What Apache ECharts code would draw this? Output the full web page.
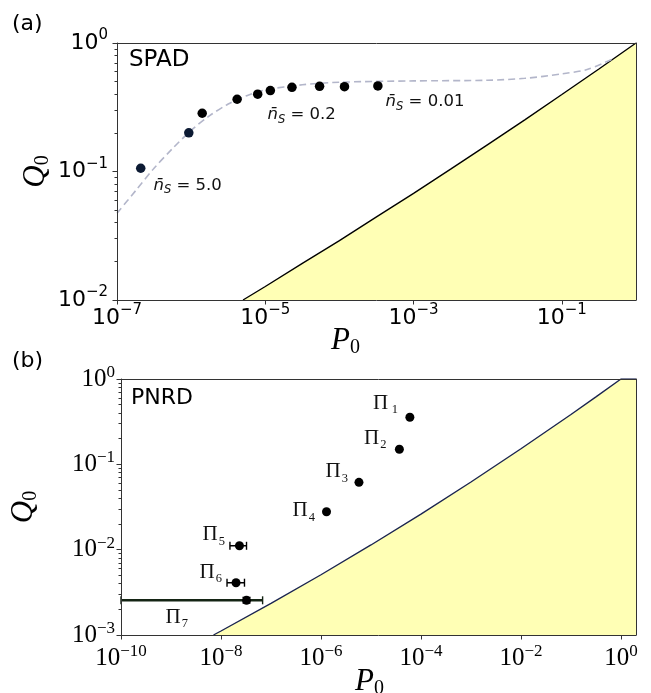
<!DOCTYPE html>
<html><head><meta charset="utf-8">
<script src="https://cdn.jsdelivr.net/npm/echarts@6/dist/echarts.min.js"></script>
<style>html,body{margin:0;padding:0;background:#fff}#c{width:651px;height:693px}</style>
</head><body><div id="c"></div>
<script>
// ---------- Panel (a): SPAD ----------
const spadP = [2.09e-7, 9.3e-7, 1.41e-6, 4.17e-6, 7.9e-6, 1.17e-5, 2.29e-5, 5.4e-5, 1.17e-4, 3.3e-4];
const spadQ = [0.106, 0.20, 0.284, 0.365, 0.40, 0.426, 0.452, 0.46, 0.457, 0.463];
const spadLabelText = ['5.0', null, null, null, '0.2', null, null, null, null, '0.01'];
const spadFitP = [1e-7, 1.78e-7, 3.16e-7, 5.62e-7, 1e-6, 1.78e-6, 3.16e-6, 5.62e-6, 1e-5, 3.16e-5, 1e-4, 1e-3, 1e-2, 3.16e-2, 0.1, 0.224, 0.5];
const spadFitQ = [0.0473, 0.0708, 0.106, 0.151, 0.209, 0.272, 0.335, 0.389, 0.431, 0.473, 0.495, 0.507, 0.513, 0.531, 0.575, 0.624, 0.759];
const spadBoundP = [5.01e-6, 1e-5, 3.16e-5, 1e-4, 3.16e-4, 1e-3, 3.16e-3, 1e-2, 3.16e-2, 1e-1, 3.16e-1, 1];
const spadBoundQ = [0.01, 0.01274, 0.0193, 0.02897, 0.0444, 0.0676, 0.1042, 0.1618, 0.2525, 0.3972, 0.628, 1];
const xTicksA = [1e-7, 1e-5, 1e-3, 1e-1];
const yTicksA = [1e-2, 1e-1, 1];

// ---------- Panel (b): PNRD ----------
const pnrdNames = ['1', '2', '3', '4', '5', '6', '7'];
const pnrdP = [6.0e-5, 3.7e-5, 5.75e-6, 1.29e-6, 2.34e-8, 2.0e-8, 3.24e-8];
const pnrdQ = [0.356, 0.15, 0.0615, 0.0278, 0.0111, 0.0041, 0.00255];
const pnrdPlo = [null, null, null, null, 1.51e-8, 1.32e-8, 1e-10];
const pnrdPhi = [null, null, null, null, 3.24e-8, 2.95e-8, 6.8e-8];
const pnrdQlo = [null, null, null, null, null, null, 0.00237];
const pnrdQhi = [null, null, null, null, null, null, 0.00276];
const pnrdBoundP = [7.08e-9, 1e-8, 1e-7, 1e-6, 1e-5, 1e-4, 1e-3, 1e-2, 1e-1, 3.16e-1, 1, 2];
const pnrdBoundQ = [0.001, 0.001114, 0.002344, 0.005081, 0.01135, 0.02612, 0.0621, 0.1521, 0.384, 0.618, 1, 1];
const xTicksB = [1e-10, 1e-8, 1e-6, 1e-4, 1e-2, 1];
const yTicksB = [1e-3, 1e-2, 1e-1, 1];

// ---------- styles (kept apart from data) ----------
const spadColors = ['#0c1a33', '#0c1a33', '#000', '#000', '#000', '#000', '#000', '#000', '#000', '#000'];
const spadLabelStyle = {0: {distance: 8, dy: 17}, 4: {distance: 5, dy: 21}, 9: {distance: 3, dy: 16}};
const pnrdLabelStyle = [
  {distance: 7.5, dy: -14}, {distance: 8.5, dy: -11}, {distance: 6.5, dy: -10.5}, {distance: 7, dy: -1},
  {distance: 10, dy: -11}, {distance: 9.5, dy: -10}, {distance: 54, dy: 17}
];
const AX = '#333';
const TXT = '#111';

function supLabel(v) {
  const e = Math.round(Math.log10(v));
  return '{b|10}{s|' + (e < 0 ? '\u2212' + (-e) : e) + '}';
}
function minorOf(majors) {
  const out = [];
  for (let i = 0; i < majors.length - 1; i++) for (let k = 2; k <= 9; k++) out.push(+(majors[i] * k).toPrecision(6));
  return out;
}
const richSans = {
  b: {fontFamily: 'DejaVu Sans', fontSize: 22, color: '#000', lineHeight: 30},
  s: {fontFamily: 'DejaVu Sans', fontSize: 15, color: '#000', lineHeight: 15, verticalAlign: 'top'}
};
const richSerif = {
  b: {fontFamily: 'Liberation Serif', fontSize: 25, color: '#000', lineHeight: 30},
  s: {fontFamily: 'Liberation Serif', fontSize: 17, color: '#000', lineHeight: 16, verticalAlign: 'top'}
};
function nameStyle(size, subSize, lh, extra) {
  return Object.assign({
    fontFamily: 'Liberation Serif', fontStyle: 'italic', fontSize: size, color: '#000', lineHeight: lh,
    rich: {s: {fontFamily: 'Liberation Serif', fontStyle: 'normal', fontSize: subSize, color: '#000', lineHeight: subSize, verticalAlign: 'bottom'}}
  }, extra || {});
}

function mainX(g, min, max, ticks, rich, margin, name, nameGap, nameExtra) {
  return {
    type: 'log', gridIndex: g, min: min, max: max, position: 'bottom', z: 10,
    axisLine: {show: true, onZero: false, lineStyle: {color: AX, width: 1}},
    axisTick: {show: true, customValues: ticks, length: 4.5, lineStyle: {color: AX, width: 1}},
    axisLabel: {show: true, customValues: ticks, formatter: supLabel, rich: rich, margin: margin},
    splitLine: {show: false}, minorTick: {show: false},
    name: name, nameLocation: 'middle', nameGap: nameGap, nameMoveOverlap: false, nameTextStyle: nameExtra
  };
}
function borderX(g, min, max) {
  return {type: 'log', gridIndex: g, min: min, max: max, position: 'top', z: 10,
    axisLine: {show: true, onZero: false, lineStyle: {color: AX, width: 1}},
    axisTick: {show: false}, axisLabel: {show: false}, splitLine: {show: false}};
}
function mainY(g, min, max, ticks, rich, margin, name, nameGap, nameExtra) {
  return {
    type: 'log', gridIndex: g, min: min, max: max, position: 'left', z: 10,
    axisLine: {show: true, onZero: false, lineStyle: {color: AX, width: 1}},
    axisTick: {show: true, customValues: ticks, length: 4.5, lineStyle: {color: AX, width: 1}},
    axisLabel: {show: true, customValues: ticks, formatter: supLabel, rich: rich, margin: margin},
    splitLine: {show: false},
    name: name, nameLocation: 'middle', nameGap: nameGap, nameRotate: 90, nameMoveOverlap: false, nameTextStyle: nameExtra
  };
}
function minorY(g, min, max, ticks) {
  return {type: 'log', gridIndex: g, min: min, max: max, position: 'left', offset: 0, z: 10,
    axisLine: {show: false}, axisLabel: {show: false}, splitLine: {show: false},
    axisTick: {show: true, customValues: minorOf(ticks), length: 2.5, lineStyle: {color: AX, width: 1}}};
}
function borderY(g, min, max) {
  return {type: 'log', gridIndex: g, min: min, max: max, position: 'right', z: 10,
    axisLine: {show: true, onZero: false, lineStyle: {color: AX, width: 1}},
    axisTick: {show: false}, axisLabel: {show: false}, splitLine: {show: false}};
}

const zip = (a, b) => a.map((v, i) => [v, b[i]]);

// scatter (a)
const spadData = spadP.map((p, i) => {
  const item = {value: [p, spadQ[i]], itemStyle: {color: spadColors[i], opacity: 1}};
  if (spadLabelText[i]) {
    const st = spadLabelStyle[i];
    item.label = {
      show: true, position: 'right', distance: st.distance, offset: [0, st.dy],
      formatter: '{n|n\u0304}{s|S}{t| = ' + spadLabelText[i] + '}',
      rich: {
        n: {fontFamily: 'DejaVu Sans', fontStyle: 'italic', fontSize: 16.5, color: TXT, lineHeight: 22},
        s: {fontFamily: 'DejaVu Sans', fontStyle: 'italic', fontSize: 11.5, color: TXT, lineHeight: 12, verticalAlign: 'bottom'},
        t: {fontFamily: 'DejaVu Sans', fontSize: 16.5, color: TXT, lineHeight: 22}
      }
    };
  }
  return item;
});

// scatter (b)
const pnrdData = pnrdP.map((p, i) => ({
  value: [p, pnrdQ[i]],
  label: {
    show: true, position: 'left', distance: pnrdLabelStyle[i].distance, offset: [0, pnrdLabelStyle[i].dy],
    formatter: '{p|\u03A0}{s|' + (i === 0 ? '\u2009' : '') + pnrdNames[i] + '}',
    rich: {
      p: {fontFamily: 'Liberation Serif', fontSize: 21, color: TXT, lineHeight: 26},
      s: {fontFamily: 'Liberation Serif', fontSize: 12.5, color: TXT, lineHeight: 12, verticalAlign: 'bottom', padding: [0, 0, 0, 1]}
    }
  }
}));

// error bars (b)
const errSeries = [];
pnrdP.forEach((p, i) => {
  if (pnrdPlo[i] != null) {
    errSeries.push({
      type: 'line', xAxisIndex: 2, yAxisIndex: 3, data: [[pnrdPlo[i], pnrdQ[i]], [pnrdPhi[i], pnrdQ[i]]],
      symbol: 'rect', symbolSize: [1.4, 8], showSymbol: true, itemStyle: {color: i === 6 ? '#142414' : '#000', opacity: 1},
      lineStyle: {color: i === 6 ? '#142414' : '#000', width: i === 6 ? 2.6 : 1.4}, z: 3, silent: true
    });
  }
  if (pnrdQlo[i] != null) {
    errSeries.push({
      type: 'line', xAxisIndex: 2, yAxisIndex: 3, data: [[p, pnrdQlo[i]], [p, pnrdQhi[i]]],
      symbol: 'rect', symbolSize: [8, 1.4], showSymbol: true, itemStyle: {color: '#000', opacity: 1},
      lineStyle: {color: '#000', width: 1.4}, z: 3, silent: true
    });
  }
});

const option = {
  animation: false,
  backgroundColor: '#fff',
  grid: [
    {left: 117, top: 43, width: 519, height: 257, show: false, containLabel: false, outerBoundsMode: 'none'},
    {left: 121, top: 379, width: 515, height: 256, show: false, containLabel: false, outerBoundsMode: 'none'}
  ],
  xAxis: [
    mainX(0, 1e-7, 1, xTicksA, richSans, 3, 'P{s|0}', 24,
      nameStyle(31, 20, 34, {padding: [0, 62, 0, 0]})),
    borderX(0, 1e-7, 1),
    mainX(1, 1e-10, 2, xTicksB, richSerif, 8, 'P{s|0}', 30, nameStyle(31, 20, 34, {padding: [0, 18, 0, 0]})),
    borderX(1, 1e-10, 2)
  ],
  yAxis: [
    mainY(0, 0.01, 1, yTicksA, richSans, 9, 'Q{s|0}', 64, nameStyle(31, 20, 34)),
    minorY(0, 0.01, 1, yTicksA),
    borderY(0, 0.01, 1),
    mainY(1, 0.001, 1, yTicksB, richSerif, 6, 'Q{s|0}', 80, nameStyle(31, 20, 34)),
    minorY(1, 0.001, 1, yTicksB),
    borderY(1, 0.001, 1)
  ],
  graphic: [
    {type: 'text', left: 12, top: 13, style: {text: '(a)', font: '22px "DejaVu Sans"', fill: '#000'}},
    {type: 'text', left: 12, top: 350, style: {text: '(b)', font: '22px "DejaVu Sans"', fill: '#000'}},
    {type: 'text', left: 129, top: 49, style: {text: 'SPAD', font: '23px "DejaVu Sans"', fill: '#000'}},
    {type: 'text', left: 131, top: 387, style: {text: 'PNRD', font: '22px "DejaVu Sans"', fill: '#000'}}
  ],
  series: [
    {type: 'line', xAxisIndex: 0, yAxisIndex: 0, data: zip(spadBoundP, spadBoundQ), symbol: 'none',
      lineStyle: {color: '#000', width: 1.4}, areaStyle: {color: '#ffffb5', opacity: 1, origin: 'start'}, z: 1, silent: true},
    {type: 'line', xAxisIndex: 0, yAxisIndex: 0, data: zip(spadFitP, spadFitQ), symbol: 'none', smooth: 0.3,
      lineStyle: {color: '#b3b6ca', width: 1.6, type: [7, 4]}, z: 2, silent: true},
    {type: 'scatter', xAxisIndex: 0, yAxisIndex: 0, data: spadData, symbolSize: 9.5, z: 4, silent: true},
    {type: 'line', xAxisIndex: 2, yAxisIndex: 3, data: zip(pnrdBoundP, pnrdBoundQ), symbol: 'none',
      lineStyle: {color: '#1b2550', width: 1.4}, areaStyle: {color: '#ffffb5', opacity: 1, origin: 'start'}, z: 1, silent: true},
    ...errSeries,
    {type: 'scatter', xAxisIndex: 2, yAxisIndex: 3, data: pnrdData, symbolSize: 9, itemStyle: {color: '#000', opacity: 1}, z: 4, silent: true}
  ]
};
const chart = echarts.init(document.getElementById('c'));
chart.setOption(option);
</script>
</body></html>
